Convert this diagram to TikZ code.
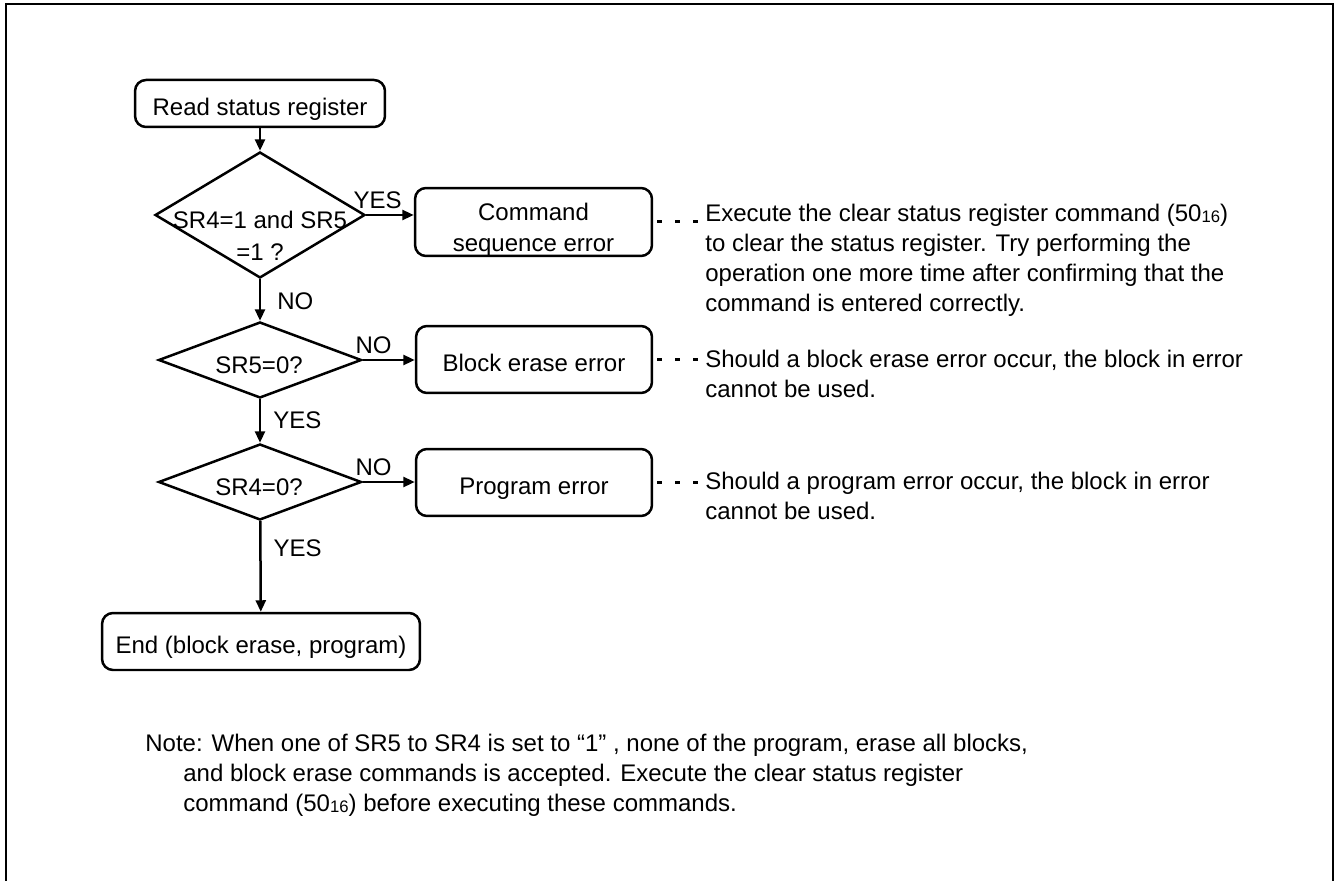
\documentclass[tikz,border=0pt]{standalone}
\usepackage{fontspec}
\setmainfont{Liberation Sans}
\usetikzlibrary{arrows.meta, shapes.geometric, positioning}
\newcommand{\hexsub}[1]{\raisebox{-0.4pt}{\fontsize{9.5}{9.5}\selectfont #1}}

\begin{document}
\begin{tikzpicture}[x=0.02cm, y=-0.02cm,
        box/.style={draw, line width=0.05cm, rounded corners=0.22cm, inner sep=0pt, text height=0.48cm, text depth=0cm, font=\fontsize{13.66}{17.6}\selectfont},
        dec/.style={draw, diamond, line width=0.05cm, inner sep=0pt},
        txt/.style={inner sep=0pt, align=center, font=\fontsize{13.66}{18.4}\selectfont},
        desc/.style={anchor=north west, inner xsep=0.1cm, inner ysep=0pt, align=left, font=\fontsize{13.66}{17.07}\selectfont},
        arr/.style={-{Triangle[length=0.23cm, width=0.2cm]}, line width=0.05cm},
        dots/.style={line width=0.06cm, dash pattern=on 0.1cm off 0.26cm, dash phase=0.28cm},
        lbl/.style={inner sep=0pt, font=\fontsize{13.66}{16}\selectfont}
    ]
    \useasboundingbox (0,0) rectangle (1337,881);
    \draw[line width=0.055cm] (6,881) -- (6,4) -- (1333,4) -- (1333,881);

    % flow
    \node[box, minimum width=5cm, minimum height=0.94cm] (rsr) at (260,103.5) {Read status register};
    \node[dec, minimum width=4.2cm, minimum height=2.52cm] (d1) at (260,215) {};
    \node[txt] (d1t) at (260,236) {SR4=1 and SR5\\=1 ?};
    \node[box, minimum width=4.74cm, minimum height=1.36cm] (cse) at (533.5,222) {};
    \node[txt, font=\fontsize{13.66}{17.6}\selectfont] (cset) at (533.5,230) {Command\\sequence error};

    \node[dec, minimum width=4.06cm, minimum height=1.52cm] (d2) at (260,360) {};
    \node[txt] (d2t) at (259,365) {SR5=0?};
    \node[box, minimum width=4.72cm, minimum height=1.34cm] (bee) at (534,359.5) {Block erase error};

    \node[dec, minimum width=4.06cm, minimum height=1.52cm] (d3) at (260,482) {};
    \node[txt] (d3t) at (259,487) {SR4=0?};
    \node[box, minimum width=4.72cm, minimum height=1.34cm] (pe) at (534,482.5) {Program error};

    \node[box, minimum width=6.36cm, minimum height=1.14cm] (fin) at (261,641.5) {End (block erase, program)};

    % remarks
    \node[desc] (n1) at (700,204) {Execute the clear status register command (50\hexsub{16})\\to clear the status register. Try performing the\\operation one more time after confirming that the\\command is entered correctly.};
    \node[desc] (n2) at (700,350) {Should a block erase error occur, the block in error\\cannot be used.};
    \node[desc] (n3) at (700,472) {Should a program error occur, the block in error\\cannot be used.};

    \node[desc, inner xsep=0pt] (nt) at (145,734) {Note: When one of SR5 to SR4 is set to “1” , none of the program, erase all blocks,\\\hspace*{0.76cm}and block erase commands is accepted. Execute the clear status register\\\hspace*{0.76cm}command (50\hexsub{16}) before executing these commands.};

    \draw[arr] (rsr) -- (d1);
    \draw[arr] (d1.east) -- node[lbl, above=0.11cm, pos=0.24] (y1) {YES} (d1.east -| cse.west);
    \draw[arr] (d1) -- node[lbl, right=0.32cm, pos=0.52] (no1) {NO} (d2);
    \draw[arr] (d2.east) -- node[lbl, above=0.11cm, pos=0.21] (no2) {NO} (d2.east -| bee.west);
    \draw[arr] (d2) -- node[lbl, right=0.24cm, pos=0.49] (y2) {YES} (d3);
    \draw[arr] (d3.east) -- node[lbl, above=0.11cm, pos=0.21] (no3) {NO} (d3.east -| pe.west);
    \draw[arr] (d3) -- node[lbl, right=0.24cm, pos=0.3] (y3) {YES} (fin);

    \draw[dots] (cse.east) -- (cse.east -| n1.west);
    \draw[dots] (bee.east) -- (bee.east -| n2.west);
    \draw[dots] (pe.east) -- (pe.east -| n3.west);
\end{tikzpicture}
\end{document}
